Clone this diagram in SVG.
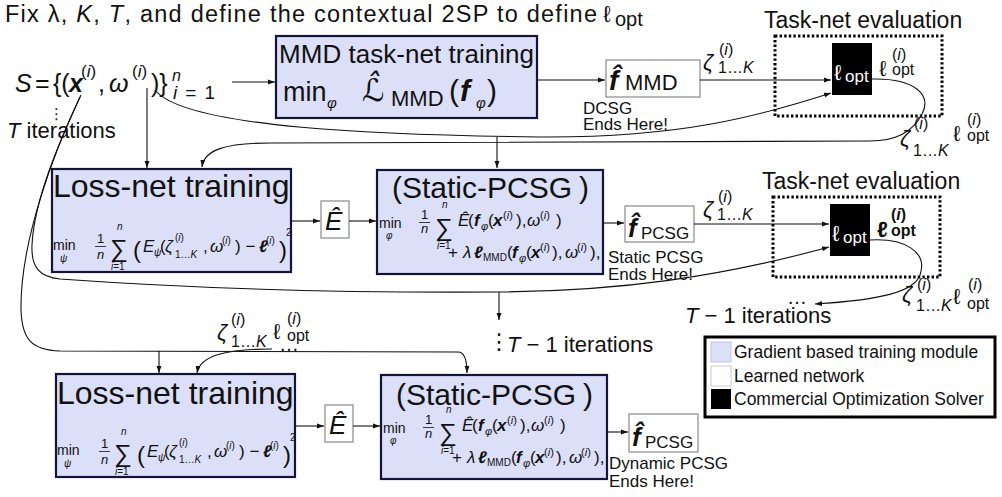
<svg xmlns="http://www.w3.org/2000/svg" width="1002" height="497" viewBox="0 0 1002 497">
<defs>
<marker id="ah" viewBox="0 0 10 10" refX="10" refY="5" markerWidth="7" markerHeight="7" markerUnits="userSpaceOnUse" orient="auto"><path d="M0,1.5 L10,5 L0,8.5 z" fill="#111"/></marker>
<style>
text{font-family:"Liberation Sans","DejaVu Sans",sans-serif;fill:#111}
.grad{fill:#dcdff8;stroke:#14143a;stroke-width:2.2}
.net{fill:#fff;stroke:#9a9a9a;stroke-width:1.4}
.solver{fill:#000}
.dot{fill:none;stroke:#000;stroke-width:3;stroke-dasharray:2.4 2.2}
.conn path{fill:none;stroke:#111;stroke-width:1.1}
.ar{marker-end:url(#ah)}
.i{font-style:italic}
.bi{font-style:italic;font-weight:bold}
.w{fill:#fff}
.dj{font-family:"DejaVu Sans",sans-serif}
.bar{stroke:#111;stroke-width:0.8}
</style>
</defs>
<rect width="1002" height="497" fill="#fff"/>

<g id="title">
<text x="5" y="22" font-size="23.5" textLength="592" lengthAdjust="spacing">Fix λ, <tspan class="i">K</tspan>, <tspan class="i">T</tspan>, and define the contextual 2SP to define</text>
<text x="603" y="22" font-size="23">ℓ</text>
<text x="615" y="26" font-size="20">opt</text>
</g>

<g id="node-S">
<text font-size="25"><tspan x="15" y="92" class="i">S</tspan><tspan x="35" y="92">=</tspan><tspan x="53" y="92">{(</tspan><tspan x="69" y="92" class="bi">x</tspan><tspan x="81" y="77" font-size="17">(<tspan class="i">i</tspan>)</tspan><tspan x="98" y="92">,</tspan><tspan x="109" y="92" class="i">ω</tspan><tspan x="132" y="77" font-size="17">(<tspan class="i">i</tspan>)</tspan><tspan x="151" y="92">)}</tspan><tspan x="172" y="81" font-size="16" class="i">n</tspan><tspan x="173" y="99" font-size="19" textLength="42" lengthAdjust="spacing"><tspan class="i">i</tspan>=1</tspan></text>
<text x="7" y="138" font-size="22"><tspan class="i">T</tspan> iterations</text>
<text x="49" y="119" font-size="15" class="dj">⋮</text>
</g>

<g id="node-mmd">
<rect class="grad" x="276" y="36" width="261" height="82"/>
<text x="279" y="63" font-size="26" textLength="255" lengthAdjust="spacing">MMD task-net training</text>
<text font-size="27"><tspan x="283" y="101">min</tspan><tspan x="327" y="108" font-size="15" class="i">φ</tspan><tspan x="362" y="101" font-size="31" class="i dj">ℒ̂</tspan><tspan x="391" y="106" font-size="22">MMD</tspan><tspan x="449" y="101" font-size="30">(</tspan><tspan x="460" y="101" font-size="30" class="bi">f</tspan><tspan x="476" y="108" font-size="15" class="i">φ</tspan><tspan x="487" y="101" font-size="30">)</tspan></text>
</g>

<g id="node-fmmd">
<rect class="net" x="606" y="60" width="94" height="37"/>
<text x="609" y="90" font-size="28" class="bi">f̂</text>
<text x="625" y="90" font-size="22">MMD</text>
<text x="583" y="114" font-size="17">DCSG</text>
<text x="583" y="130" font-size="17">Ends Here!</text>
</g>

<g id="node-eval1">
<text x="764" y="28" font-size="23">Task-net evaluation</text>
<rect class="dot" x="775" y="36" width="167" height="80"/>
<rect class="solver" x="832" y="43" width="40" height="52"/>
<text x="834" y="80" font-size="22" class="w">ℓ</text>
<text x="845" y="82" font-size="17" class="w">opt</text>
</g>

<g id="node-eval2" transform="translate(-2,161)">
<text x="764" y="28" font-size="23">Task-net evaluation</text>
<rect class="dot" x="775" y="36" width="167" height="80"/>
<rect class="solver" x="832" y="43" width="40" height="52"/>
<text x="834" y="80" font-size="22" class="w">ℓ</text>
<text x="845" y="82" font-size="17" class="w">opt</text>
</g>

<g id="node-loss1">
<rect class="grad" x="52" y="169" width="239" height="103"/>
<text x="53" y="197" font-size="32">Loss-net training</text>
<text font-size="17"><tspan x="53" y="250" font-size="14">min</tspan><tspan x="60" y="262" font-size="10" class="i">ψ</tspan><tspan x="97" y="243" font-size="13">1</tspan><tspan x="97" y="259" font-size="13" class="i">n</tspan><tspan x="110" y="257" font-size="25">∑</tspan><tspan x="117" y="230" font-size="10" class="i">n</tspan><tspan x="111" y="270" font-size="10"><tspan class="i">i</tspan>=1</tspan><tspan x="133" y="258" font-size="24">(</tspan><tspan x="143" y="252" class="i">E</tspan><tspan x="154" y="256" font-size="10" class="i">ψ</tspan><tspan x="160" y="252">(</tspan><tspan x="165" y="252" class="i">ζ</tspan><tspan x="175" y="241" font-size="10">(<tspan class="i">i</tspan>)</tspan><tspan x="175" y="258" font-size="10">1…<tspan class="i">K</tspan></tspan><tspan x="203" y="252">,</tspan><tspan x="210" y="252" class="i">ω</tspan><tspan x="222" y="244" font-size="10">(<tspan class="i">i</tspan>)</tspan><tspan x="235" y="252">) −</tspan><tspan x="259" y="252" class="bi">ℓ</tspan><tspan x="266" y="244" font-size="10">(<tspan class="i">i</tspan>)</tspan><tspan x="279" y="258" font-size="24">)</tspan><tspan x="286" y="236" font-size="10">2</tspan></text>
<path class="bar" d="M95,246.5 H106"/>
</g>

<g id="node-ehat1">
<rect class="net" x="321" y="201" width="28" height="37"/>
<text x="325" y="230" font-size="26" class="i">Ê</text>
</g>

<g id="node-static1">
<rect class="grad" x="377" y="170" width="226" height="104"/>
<text x="392" y="198" font-size="30">(Static-PCSG<tspan dx="7">)</tspan></text>
<text font-size="17"><tspan x="379" y="228" font-size="14">min</tspan><tspan x="386" y="239" font-size="10" class="i">φ</tspan><tspan x="421" y="219" font-size="13">1</tspan><tspan x="421" y="233" font-size="13" class="i">n</tspan><tspan x="435" y="236" font-size="25">∑</tspan><tspan x="442" y="208" font-size="10" class="i">n</tspan><tspan x="437" y="249" font-size="10"><tspan class="i">i</tspan>=1</tspan><tspan x="458" y="226" class="i">Ê</tspan><tspan x="468" y="226">(</tspan><tspan x="474" y="226" class="bi">f</tspan><tspan x="481" y="230" font-size="11" class="i">φ</tspan><tspan x="488" y="226">(</tspan><tspan x="493" y="226" class="bi">x</tspan><tspan x="503" y="219" font-size="11">(<tspan class="i">i</tspan>)</tspan><tspan x="516" y="226">),</tspan><tspan x="527" y="226" class="i">ω</tspan><tspan x="540" y="219" font-size="11">(<tspan class="i">i</tspan>)</tspan><tspan x="556" y="226">)</tspan><tspan x="448" y="258">+</tspan><tspan x="463" y="258" class="i">λ</tspan><tspan x="474" y="258" class="bi">ℓ</tspan><tspan x="483" y="261" font-size="10">MMD</tspan><tspan x="507" y="258">(</tspan><tspan x="512" y="258" class="bi">f</tspan><tspan x="519" y="262" font-size="11" class="i">φ</tspan><tspan x="526" y="258">(</tspan><tspan x="531" y="258" class="bi">x</tspan><tspan x="540" y="251" font-size="11">(<tspan class="i">i</tspan>)</tspan><tspan x="552" y="258">),</tspan><tspan x="565" y="258" class="i">ω</tspan><tspan x="577" y="251" font-size="11">(<tspan class="i">i</tspan>)</tspan><tspan x="590" y="258">),</tspan></text>
<path class="bar" d="M419,222.5 H430"/>
</g>

<g id="node-fpcsg1">
<rect class="net" x="625" y="206" width="69" height="36"/>
<text x="628" y="237" font-size="26" class="bi">f̂</text>
<text x="641" y="239" font-size="17">PCSG</text>
<text x="608" y="263" font-size="17">Static PCSG</text>
<text x="608" y="280" font-size="17">Ends Here!</text>
</g>

<g id="node-loss2" transform="translate(4,205)">
<rect class="grad" x="52" y="169" width="239" height="103"/>
<text x="53" y="199" font-size="32">Loss-net training</text>
<text font-size="17"><tspan x="53" y="250" font-size="14">min</tspan><tspan x="60" y="262" font-size="10" class="i">ψ</tspan><tspan x="97" y="243" font-size="13">1</tspan><tspan x="97" y="259" font-size="13" class="i">n</tspan><tspan x="110" y="257" font-size="25">∑</tspan><tspan x="117" y="230" font-size="10" class="i">n</tspan><tspan x="111" y="270" font-size="10"><tspan class="i">i</tspan>=1</tspan><tspan x="133" y="258" font-size="24">(</tspan><tspan x="143" y="252" class="i">E</tspan><tspan x="154" y="256" font-size="10" class="i">ψ</tspan><tspan x="160" y="252">(</tspan><tspan x="165" y="252" class="i">ζ</tspan><tspan x="175" y="241" font-size="10">(<tspan class="i">i</tspan>)</tspan><tspan x="175" y="258" font-size="10">1…<tspan class="i">K</tspan></tspan><tspan x="203" y="252">,</tspan><tspan x="210" y="252" class="i">ω</tspan><tspan x="222" y="244" font-size="10">(<tspan class="i">i</tspan>)</tspan><tspan x="235" y="252">) −</tspan><tspan x="259" y="252" class="bi">ℓ</tspan><tspan x="266" y="244" font-size="10">(<tspan class="i">i</tspan>)</tspan><tspan x="279" y="258" font-size="24">)</tspan><tspan x="286" y="236" font-size="10">2</tspan></text>
<path class="bar" d="M95,246.5 H106"/>
</g>

<g id="node-ehat2" transform="translate(4,204)">
<rect class="net" x="321" y="201" width="28" height="37"/>
<text x="325" y="230" font-size="26" class="i">Ê</text>
</g>

<g id="node-static2" transform="translate(4,205)">
<rect class="grad" x="377" y="170" width="226" height="104"/>
<text x="392" y="200" font-size="30">(Static-PCSG<tspan dx="7">)</tspan></text>
<text font-size="17"><tspan x="379" y="228" font-size="14">min</tspan><tspan x="386" y="239" font-size="10" class="i">φ</tspan><tspan x="421" y="219" font-size="13">1</tspan><tspan x="421" y="233" font-size="13" class="i">n</tspan><tspan x="435" y="236" font-size="25">∑</tspan><tspan x="442" y="208" font-size="10" class="i">n</tspan><tspan x="437" y="249" font-size="10"><tspan class="i">i</tspan>=1</tspan><tspan x="458" y="226" class="i">Ê</tspan><tspan x="468" y="226">(</tspan><tspan x="474" y="226" class="bi">f</tspan><tspan x="481" y="230" font-size="11" class="i">φ</tspan><tspan x="488" y="226">(</tspan><tspan x="493" y="226" class="bi">x</tspan><tspan x="503" y="219" font-size="11">(<tspan class="i">i</tspan>)</tspan><tspan x="516" y="226">),</tspan><tspan x="527" y="226" class="i">ω</tspan><tspan x="540" y="219" font-size="11">(<tspan class="i">i</tspan>)</tspan><tspan x="556" y="226">)</tspan><tspan x="448" y="258">+</tspan><tspan x="463" y="258" class="i">λ</tspan><tspan x="474" y="258" class="bi">ℓ</tspan><tspan x="483" y="261" font-size="10">MMD</tspan><tspan x="507" y="258">(</tspan><tspan x="512" y="258" class="bi">f</tspan><tspan x="519" y="262" font-size="11" class="i">φ</tspan><tspan x="526" y="258">(</tspan><tspan x="531" y="258" class="bi">x</tspan><tspan x="540" y="251" font-size="11">(<tspan class="i">i</tspan>)</tspan><tspan x="552" y="258">),</tspan><tspan x="565" y="258" class="i">ω</tspan><tspan x="577" y="251" font-size="11">(<tspan class="i">i</tspan>)</tspan><tspan x="590" y="258">),</tspan></text>
<path class="bar" d="M419,222.5 H430"/>
</g>

<g id="node-fpcsg2">
<rect class="net" x="629" y="414" width="69" height="38"/>
<text x="632" y="446" font-size="26" class="bi">f̂</text>
<text x="645" y="448" font-size="17">PCSG</text>
<text x="609" y="469" font-size="17">Dynamic PCSG</text>
<text x="609" y="487" font-size="17">Ends Here!</text>
</g>

<g id="legend">
<rect x="705" y="337" width="290" height="80" fill="#fff" stroke="#000" stroke-width="3"/>
<rect x="711" y="342" width="20" height="20" fill="#dcdff8" stroke="#c4c7e6"/>
<text x="734" y="358" font-size="17.5">Gradient based training module</text>
<rect x="711" y="366" width="20" height="20" fill="#fff" stroke="#ccc"/>
<text x="734" y="382" font-size="17.5">Learned network</text>
<rect x="711" y="389" width="20" height="20" fill="#000"/>
<text x="734" y="405" font-size="17.5">Commercial Optimization Solver</text>
</g>

<g id="connectors" class="conn">
<path class="ar" d="M232,82 H275"/>
<path class="ar" d="M537,80 H605"/>
<path class="ar" d="M700,80 H831"/>
<path class="ar" d="M147,88 V168"/>
<path class="ar" d="M155,90 C185,128 380,135 540,137 C680,138 760,116 831,93"/>
<path class="ar" d="M872,79 C915,78 932,95 922,114 C914,130 898,141 870,141 L270,143 C225,143 204,150 202,167"/>
<path class="ar" d="M497,137 V168"/>
<path class="ar" d="M291,221 H320"/>
<path class="ar" d="M349,221 H376"/>
<path class="ar" d="M603,223 H624"/>
<path class="ar" d="M694,224 H829"/>
<path class="ar" d="M81,95 C60,140 34,200 32,245 C31,268 40,277 60,279 C200,289 350,293 500,292 C620,291 720,277 829,247"/>
<path class="ar" d="M499,292 V320"/>
<path class="ar" d="M870,240 C905,238 928,252 920,275 C914,292 880,300 815,304"/>
<path class="ar" d="M80,97 C55,150 20,240 21,310 C22,340 32,350 60,351 L458,352 C464,352 467,358 467,373"/>
<path class="ar" d="M159,351 V373"/>
<path class="ar" d="M272,349 C228,349 200,355 197,373"/>
<path class="ar" d="M295,426 H324"/>
<path class="ar" d="M353,426 H380"/>
<path class="ar" d="M607,432 H628"/>
</g>

<g id="labels">
<text font-size="22"><tspan x="703" y="70" class="i">ζ</tspan><tspan x="719" y="55" font-size="16">(<tspan class="i">i</tspan>)</tspan><tspan x="718" y="73" font-size="16">1…<tspan class="i">K</tspan></tspan></text>
<text font-size="22"><tspan x="879" y="76">ℓ</tspan><tspan x="892" y="60" font-size="16">(<tspan class="i">i</tspan>)</tspan><tspan x="892" y="75" font-size="16">opt</tspan></text>
<text font-size="22"><tspan x="900" y="146" class="i">ζ</tspan><tspan x="914" y="129" font-size="16">(<tspan class="i">i</tspan>)</tspan><tspan x="913" y="156" font-size="16">1…<tspan class="i">K</tspan></tspan><tspan x="953" y="141">ℓ</tspan><tspan x="967" y="125" font-size="16">(<tspan class="i">i</tspan>)</tspan><tspan x="967" y="141" font-size="16">opt</tspan></text>
<text font-size="22"><tspan x="703" y="217" class="i">ζ</tspan><tspan x="718" y="202" font-size="16">(<tspan class="i">i</tspan>)</tspan><tspan x="717" y="220" font-size="16">1…<tspan class="i">K</tspan></tspan></text>
<text font-size="22" font-weight="bold"><tspan x="877" y="237">ℓ</tspan><tspan x="891" y="220" font-size="16">(<tspan class="i">i</tspan>)</tspan><tspan x="891" y="236" font-size="16">opt</tspan></text>
<text font-size="22"><tspan x="902" y="302" class="i">ζ</tspan><tspan x="917" y="290" font-size="16">(<tspan class="i">i</tspan>)</tspan><tspan x="916" y="311" font-size="16">1…<tspan class="i">K</tspan></tspan><tspan x="953" y="304">ℓ</tspan><tspan x="968" y="290" font-size="16">(<tspan class="i">i</tspan>)</tspan><tspan x="967" y="309" font-size="16">opt</tspan></text>
<text x="787" y="304" font-size="20">…</text>
<text x="685" y="323" font-size="22"><tspan class="i">T</tspan> − 1 iterations</text>
<text x="488" y="349" font-size="22" class="dj">⋮</text>
<text x="507" y="352" font-size="22"><tspan class="i">T</tspan> − 1 iterations</text>
<text font-size="22"><tspan x="217" y="340" class="i">ζ</tspan><tspan x="231" y="325" font-size="16">(<tspan class="i">i</tspan>)</tspan><tspan x="231" y="347" font-size="16">1…<tspan class="i">K</tspan></tspan><tspan x="273" y="339">ℓ</tspan><tspan x="287" y="324" font-size="16">(<tspan class="i">i</tspan>)</tspan><tspan x="287" y="341" font-size="16">opt</tspan></text>
<text x="279" y="351" font-size="20">…</text>
</g>
</svg>
